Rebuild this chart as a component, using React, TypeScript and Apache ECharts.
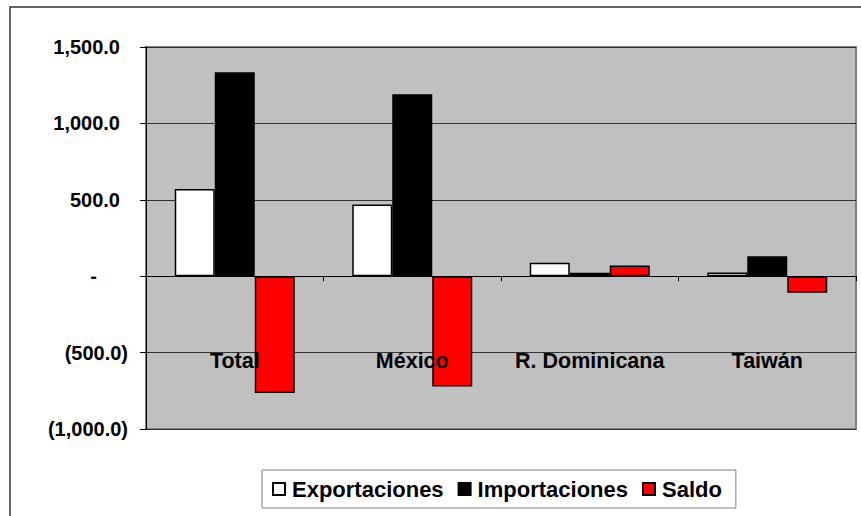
import React, { useEffect, useRef } from "react";
import * as echarts from "echarts";

const categories = ["Total", "México", "R. Dominicana", "Taiwán"];
const exportaciones = [570, 470, 88, 24];
const importaciones = [1335, 1190, 22, 131];
const saldo = [-765, -722, 70, -108];
const yTicks = { min: -1000, max: 1500, interval: 500 };
const legendNames = ["Exportaciones", "Importaciones", "Saldo"];

const FONT = '"Liberation Sans", Arial, sans-serif';

function fmt(v: number): string {
  if (v === 0) return "{z|-}";
  const s = Math.abs(v).toLocaleString("en-US", { minimumFractionDigits: 1, maximumFractionDigits: 1 });
  return v < 0 ? "{n|(" + s + ")}" : "{p|" + s + "}";
}

export default function App() {
  const ref = useRef<HTMLDivElement>(null);
  useEffect(() => {
    if (!ref.current) return;
    const chart = echarts.init(ref.current, null, { renderer: "svg" });
    const lbl = { fontFamily: FONT, fontWeight: "bold" as const, fontSize: 20, color: "#000" };
    const barBase = { type: "bar" as const, barWidth: 40, barGap: "0%" };
    chart.setOption({
      animation: false,
      backgroundColor: "#fff",
      graphic: [
        {
          type: "rect",
          shape: { x: 10, y: 7, width: 900, height: 600 },
          style: { fill: "none", stroke: "#333", lineWidth: 1.5 },
          silent: true,
          z: -10,
        },
      ],
      grid: {
        left: 146,
        top: 47,
        right: 5,
        bottom: 87,
        show: true,
        outerBoundsMode: "none",
        containLabel: false,
        backgroundColor: "#C0C0C0",
        borderColor: "#808080",
        borderWidth: 2,
      },
      legend: {
        left: 262,
        top: 470,
        padding: [8, 14, 8, 10],
        borderColor: "#808080",
        borderWidth: 1,
        itemWidth: 12,
        itemHeight: 12,
        itemGap: 14,
        icon: "rect",
        textStyle: { ...lbl, fontSize: 22, padding: [0, 0, 0, 2] },
        data: legendNames,
      },
      xAxis: {
        type: "category",
        data: categories,
        z: 10,
        axisLine: { onZero: true, lineStyle: { color: "#000", width: 1 } },
        axisTick: { show: true, length: 5, lineStyle: { color: "#000" } },
        axisLabel: { ...lbl, fontSize: 21.5, margin: -79, interval: 0 },
        splitLine: { show: false },
      },
      yAxis: {
        type: "value",
        min: yTicks.min,
        max: yTicks.max,
        interval: yTicks.interval,
        axisLine: { show: true, lineStyle: { color: "#000", width: 1 } },
        axisTick: { show: true, length: 6, lineStyle: { color: "#000" } },
        splitLine: { show: true, lineStyle: { color: "#333", width: 1 } },
        axisLabel: {
          margin: 18,
          formatter: (v: number) => fmt(v),
          rich: {
            p: { ...lbl, padding: [0, 8, 0, 0] },
            n: { ...lbl },
            z: { ...lbl, padding: [0, 31, 0, 0] },
          },
        },
      },
      series: [
        {
          ...barBase,
          name: "Exportaciones",
          data: exportaciones,
          itemStyle: { color: "#fff", borderColor: "#000", borderWidth: 1.5 },
        },
        {
          ...barBase,
          name: "Importaciones",
          data: importaciones,
          itemStyle: { color: "#000", borderColor: "#000", borderWidth: 1.5 },
        },
        {
          ...barBase,
          name: "Saldo",
          data: saldo,
          itemStyle: { color: "#FF0000", borderColor: "#000", borderWidth: 1.5 },
        },
      ],
    });
    return () => chart.dispose();
  }, []);
  return (
    <div
      ref={ref}
      style={{ position: "fixed", left: 0, top: 0, width: 861, height: 516 }}
    />
  );
}
